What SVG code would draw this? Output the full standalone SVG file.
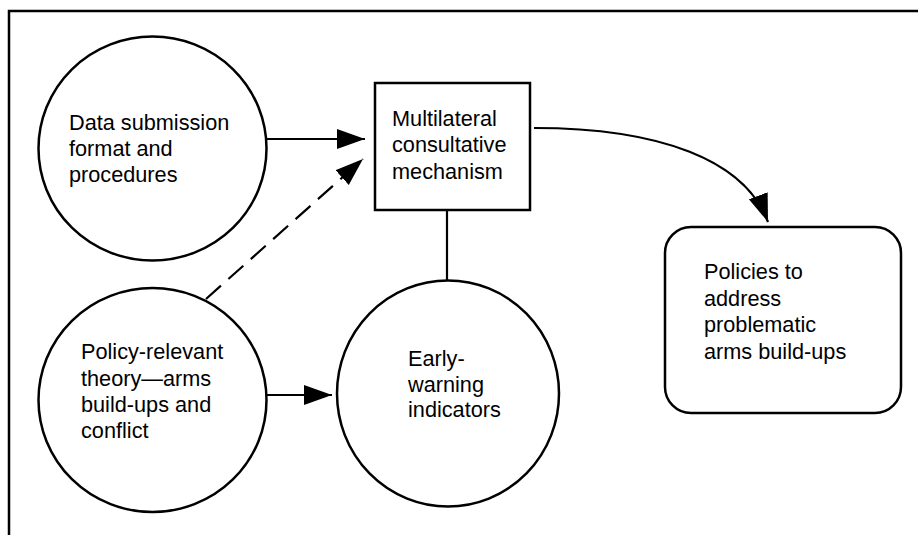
<svg xmlns="http://www.w3.org/2000/svg" width="918" height="535" viewBox="0 0 918 535">
<style>
.node{fill:#fff;stroke:#000;stroke-width:2.5}
.lbl{font-family:"Liberation Sans",Arial,sans-serif;font-size:21.7px;fill:#000}
.conn{fill:none;stroke:#000;stroke-width:2.2}
.dash{stroke-dasharray:20 10}
</style>
<defs>
<marker id="ah" markerUnits="userSpaceOnUse" markerWidth="30" markerHeight="22" refX="28" refY="10" orient="auto">
<path d="M0,0 L28,10 L0,20 Z" fill="#000"/>
</marker>
</defs>
<rect width="918" height="535" fill="#fff"/>
<rect id="frame" x="9" y="11" width="1000" height="600" fill="none" stroke="#000" stroke-width="2.5"/>
<g id="connectors">
<line class="conn" x1="265" y1="139" x2="365" y2="139" marker-end="url(#ah)"/>
<line class="conn dash" x1="206" y1="299" x2="363" y2="159" marker-end="url(#ah)"/>
<line class="conn" x1="267" y1="395" x2="332" y2="395" marker-end="url(#ah)"/>
<line class="conn" x1="447" y1="210" x2="447" y2="281"/>
<path class="conn" d="M534,128 C660,128 745,160 768,222" marker-end="url(#ah)"/>
</g>
<g id="data-submission">
<ellipse class="node" cx="152.5" cy="148.5" rx="114" ry="112"/>
<text class="lbl" x="69" y="130">Data submission</text>
<text class="lbl" x="69" y="156">format and</text>
<text class="lbl" x="69" y="182">procedures</text>
</g>
<g id="mechanism">
<rect class="node" x="375" y="83" width="155" height="127"/>
<text class="lbl" x="392" y="126">Multilateral</text>
<text class="lbl" x="392" y="152">consultative</text>
<text class="lbl" x="392" y="179">mechanism</text>
</g>
<g id="theory">
<ellipse class="node" cx="152.5" cy="400" rx="114" ry="112"/>
<text class="lbl" x="81" y="359">Policy-relevant</text>
<text class="lbl" x="81" y="386">theory—arms</text>
<text class="lbl" x="81" y="412">build-ups and</text>
<text class="lbl" x="81" y="438">conflict</text>
</g>
<g id="early-warning">
<ellipse class="node" cx="448" cy="393.5" rx="111" ry="113"/>
<text class="lbl" x="408" y="366">Early-</text>
<text class="lbl" x="408" y="392">warning</text>
<text class="lbl" x="408" y="417">indicators</text>
</g>
<g id="policies">
<rect class="node" x="665" y="227" width="236" height="186" rx="26" ry="26"/>
<text class="lbl" x="704" y="279">Policies to</text>
<text class="lbl" x="704" y="306">address</text>
<text class="lbl" x="704" y="332">problematic</text>
<text class="lbl" x="704" y="359">arms build-ups</text>
</g>
</svg>
